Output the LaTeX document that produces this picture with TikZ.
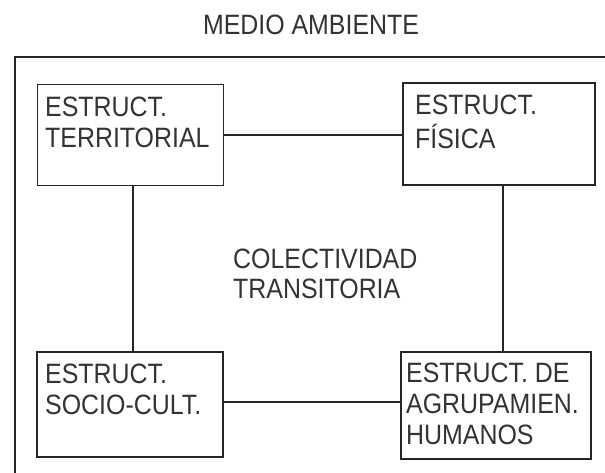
\documentclass[tikz,border=0pt]{standalone}
\usepackage{fontspec}
\setmainfont{Liberation Sans}[FakeStretch=0.89]
\newcommand\boxlines[1]{\begin{tabular}[t]{@{}l@{}}#1\end{tabular}}
\begin{document}
\begin{tikzpicture}[x=1pt,y=-1pt,
  frame/.style={line width=1.3pt, draw=black!85},
  sbox/.style={draw=black!85, line width=1.3pt, minimum width=186pt, minimum height=101pt, inner sep=0pt},
  lbl/.style={anchor=base west, inner sep=0pt, font=\fontsize{28}{31}\selectfont, text=black!80},
  link/.style={draw=black!85, line width=1.1pt}]
\useasboundingbox (0,0) rectangle (605,473);
\fill[white] (0,0) rectangle (605,473);
% outer frame (left and top visible)
\coordinate (fbl) at (15,473);
\coordinate (ftl) at (15,57);
\coordinate (ftr) at (605,57);
\draw[frame] (fbl) -- (ftl) -- (ftr);
% title
\node[lbl, anchor=base] (title) at (311,35) {MEDIO AMBIENTE};
% boxes
\node[sbox] (tl) at (130.5,135) {};
\node[sbox, minimum width=192pt, minimum height=102pt] (tr) at (499,134) {};
\node[sbox, minimum height=105pt] (bl) at (130,404.5) {};
\node[sbox, minimum width=190pt, minimum height=107pt] (br) at (496,405.5) {};
% texts
\node[lbl] (tlt) at (45,117) {\boxlines{ESTRUCT.\\TERRITORIAL}};
\node[lbl] (trt) at (415,115) {\boxlines{ESTRUCT.\\FÍSICA}};
\node[lbl] (blt) at (45,383) {\boxlines{ESTRUCT.\\SOCIO-CULT.}};
\node[lbl] (brt) at (406,382) {\boxlines{ESTRUCT. DE\\AGRUPAMIEN.\\HUMANOS}};
\node[lbl] (ct) at (233,268) {\boxlines{COLECTIVIDAD\\TRANSITORIA}};
% connectors
\draw[link] (tl.east) -- (tl.east -| tr.west);
\draw[link] ([xshift=2.5pt]tl.south) -- ([xshift=2.5pt]tl.south |- bl.north);
\draw[link] ([xshift=4pt]tr.south) -- ([xshift=4pt]tr.south |- br.north);
\draw[link] ([yshift=2.5pt]bl.east) -- ([yshift=2.5pt]bl.east -| br.west);
\end{tikzpicture}
\end{document}
